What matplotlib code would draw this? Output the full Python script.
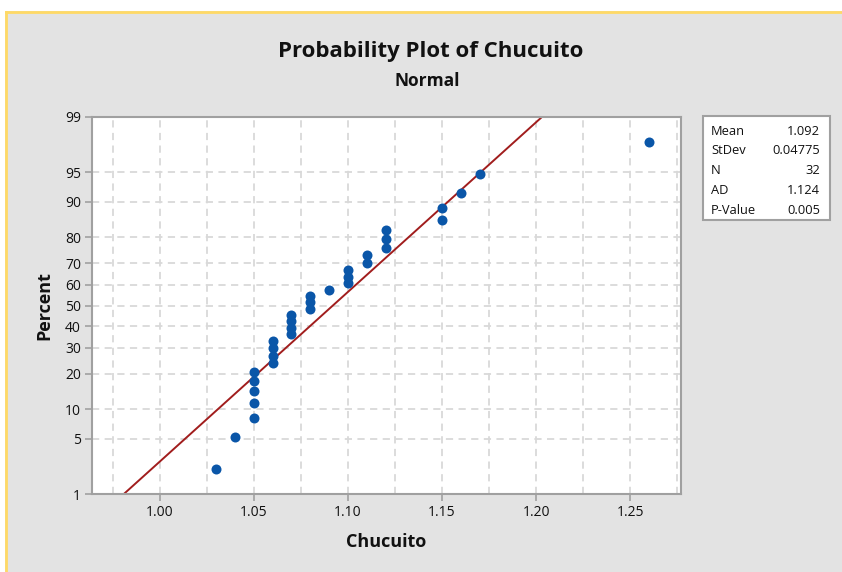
import matplotlib
matplotlib.use("Agg")
import matplotlib.pyplot as plt
from matplotlib.patches import Rectangle
from matplotlib.lines import Line2D
from statistics import NormalDist
import numpy as np

plt.rcParams['font.family'] = ['Open Sans', 'DejaVu Sans']

# ---- data ----
x_values = [1.03, 1.04,
            1.05, 1.05, 1.05, 1.05, 1.05,
            1.06, 1.06, 1.06, 1.06,
            1.07, 1.07, 1.07, 1.07,
            1.08, 1.08, 1.08,
            1.09,
            1.10, 1.10, 1.10,
            1.11, 1.11,
            1.12, 1.12, 1.12,
            1.15, 1.15,
            1.16, 1.17, 1.26]
percent_values = [2.16, 5.2,
                  8.33, 11.42, 14.51, 17.59, 20.68,
                  23.77, 26.85, 29.94, 33.02,
                  36.11, 39.20, 42.28, 45.37,
                  48.46, 51.54, 54.63,
                  57.72,
                  60.80, 63.89, 66.98,
                  70.06, 73.15,
                  76.23, 79.32, 82.41,
                  85.49, 88.58,
                  91.67, 94.75, 97.84]
y_tick_percents = [1, 5, 10, 20, 30, 40, 50, 60, 70, 80, 90, 95, 99]
x_ticks = [1.00, 1.05, 1.10, 1.15, 1.20, 1.25]
x_minor = [0.975, 1.025, 1.075, 1.125, 1.175, 1.225, 1.275]
fit_mean = 1.092
fit_stdev = 0.04775
stat_labels = ["Mean", "StDev", "N", "AD", "P-Value"]
stat_values = ["1.092", "0.04775", "32", "1.124", "0.005"]

nd = NormalDist()
def z(p):
    return nd.inv_cdf(p / 100.0)

W, H = 842, 572
fig = plt.figure(figsize=(W / 100, H / 100), dpi=100, facecolor='#E3E3E3')

# window frame: white strips and yellow edge
fig.add_artist(Rectangle((0, 1 - 11 / H), 1, 11 / H, transform=fig.transFigure,
                         facecolor='white', edgecolor='none', zorder=0))
fig.add_artist(Rectangle((0, 0), 5 / W, 1, transform=fig.transFigure,
                         facecolor='white', edgecolor='none', zorder=0))
fig.add_artist(Line2D([5.5 / W, 1], [1 - 12 / H, 1 - 12 / H], transform=fig.transFigure,
                      color='#FFD966', lw=2, zorder=1))
fig.add_artist(Line2D([5.5 / W, 5.5 / W], [0, 1 - 12 / H], transform=fig.transFigure,
                      color='#FFD966', lw=2, zorder=1))

L, R, T, B = 92, 681, 117, 494
ax = fig.add_axes([L / W, 1 - B / H, (R - L) / W, (B - T) / H])
ax.set_facecolor('white')

ymin, ymax = z(1), z(99)
ax.set_xlim(0.964, 1.277)
ax.set_ylim(ymin, ymax)

# grid
grid_kw = dict(color='#D9D9D9', lw=1.3, dashes=(4, 3), zorder=1)
for xv in x_ticks + x_minor:
    ax.axvline(xv, **grid_kw)
for p in y_tick_percents[1:-1]:
    ax.axhline(z(p), **grid_kw)

# fitted line
zz = np.array([ymin, ymax])
ax.plot(fit_mean + fit_stdev * zz, zz, color='#A11D1D', lw=1.4, zorder=2)

# points
ax.plot(x_values, [z(p) for p in percent_values], 'o', color='#0A56A8',
        markersize=7.2, markeredgewidth=0, zorder=3)

ax.set_xticks(x_ticks)
ax.set_xticklabels([f"{v:.2f}" for v in x_ticks])
ax.set_yticks([z(p) for p in y_tick_percents])
ax.set_yticklabels([str(p) for p in y_tick_percents])
ax.tick_params(axis='both', direction='out', length=5, width=1.2, color='#A0A0A0',
               labelsize=10, labelcolor='#111111', pad=3)
for s in ax.spines.values():
    s.set_color('#A0A0A0')
    s.set_linewidth(1.5)

ax.set_xlabel("Chucuito", fontsize=13, fontweight='bold', color='#111111', labelpad=9)
ax.set_ylabel("Percent", fontsize=13, fontweight='bold', color='#111111', labelpad=8)

fig.text(431 / W, 1 - 51 / H, "Probability Plot of Chucuito", ha='center', va='center',
         fontsize=16, fontweight='bold', color='#111111')
fig.text(427 / W, 1 - 81 / H, "Normal", ha='center', va='center',
         fontsize=12.5, fontweight='bold', color='#111111')

# stats box
bx0, bx1, by0, by1 = 703, 830, 116, 220
fig.add_artist(Rectangle((bx0 / W, 1 - by1 / H), (bx1 - bx0) / W, (by1 - by0) / H,
                         transform=fig.transFigure, facecolor='white',
                         edgecolor='#A0A0A0', lw=1.5, zorder=2))
rows_y = [131.5, 151, 171, 190.5, 210.5]
for lab, val, yy in zip(stat_labels, stat_values, rows_y):
    fig.text(711 / W, 1 - yy / H, lab, ha='left', va='center', fontsize=9.3,
             color='#111111', zorder=3)
    fig.text(820 / W, 1 - yy / H, val, ha='right', va='center', fontsize=9.3,
             color='#111111', zorder=3)

fig.savefig("out.png", dpi=100, facecolor=fig.get_facecolor())
